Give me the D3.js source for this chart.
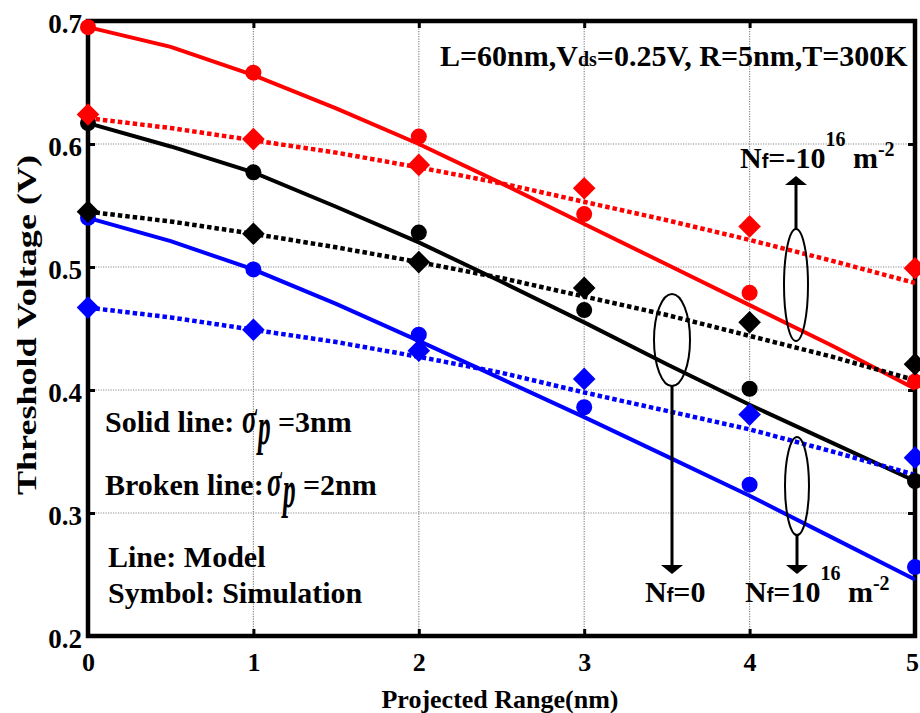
<!DOCTYPE html>
<html>
<head>
<meta charset="utf-8">
<script src="https://cdn.jsdelivr.net/npm/d3@7"></script>
<style>
body { margin: 0; background: #fff; }
svg text { font-family: "Liberation Serif", "Times New Roman", serif; font-weight: bold; fill: #000; }
</style>
</head>
<body>
<div id="graph"></div>
<script>
// tick labels
var x_ticks = [0, 1, 2, 3, 4, 5];
var y_ticks = [0.2, 0.3, 0.4, 0.5, 0.6, 0.7];

// simulation symbols sit on integer projected range values
var sim_x = [0, 1, 2, 3, 4, 5];
// model curves read every half nm
var model_x = [0, 0.5, 1, 1.5, 2, 2.5, 3, 3.5, 4, 4.5, 5];

// sigma_p = 3nm (solid line, circle symbols)
var model_neg_3 = [0.695, 0.679, 0.656, 0.629, 0.600, 0.568, 0.535, 0.502, 0.469, 0.436, 0.401];
var model_zero_3 = [0.617, 0.598, 0.577, 0.549, 0.520, 0.488, 0.455, 0.421, 0.388, 0.357, 0.326];
var model_pos_3 = [0.540, 0.521, 0.498, 0.470, 0.440, 0.409, 0.378, 0.346, 0.314, 0.280, 0.246];
var sim_neg_3 = [0.695, 0.658, 0.606, 0.543, 0.479, 0.407];
var sim_zero_3 = [0.617, 0.577, 0.528, 0.465, 0.401, 0.326];
var sim_pos_3 = [0.540, 0.498, 0.445, 0.386, 0.323, 0.256];

// sigma_p = 2nm (broken line, diamond symbols)
var model_neg_2 = [0.621, 0.613, 0.603, 0.593, 0.581, 0.568, 0.553, 0.538, 0.522, 0.505, 0.487];
var model_zero_2 = [0.545, 0.537, 0.527, 0.516, 0.504, 0.491, 0.476, 0.461, 0.444, 0.427, 0.408];
var model_pos_2 = [0.467, 0.459, 0.449, 0.439, 0.427, 0.414, 0.398, 0.383, 0.368, 0.350, 0.331];
var sim_neg_2 = [0.624, 0.604, 0.583, 0.564, 0.533, 0.499];
var sim_zero_2 = [0.545, 0.527, 0.504, 0.483, 0.455, 0.421];
var sim_pos_2 = [0.467, 0.449, 0.432, 0.409, 0.380, 0.345];

var series = [
    {color: "#ff0000", dashed: false, model: model_neg_3, sim: sim_neg_3},
    {color: "#000000", dashed: false, model: model_zero_3, sim: sim_zero_3},
    {color: "#0000ff", dashed: false, model: model_pos_3, sim: sim_pos_3},
    {color: "#ff0000", dashed: true, model: model_neg_2, sim: sim_neg_2},
    {color: "#000000", dashed: true, model: model_zero_2, sim: sim_zero_2},
    {color: "#0000ff", dashed: true, model: model_pos_2, sim: sim_pos_2}
];

var W = 920, H = 713;
var plot = {left: 88, right: 915, top: 21, bottom: 636};

var svg = d3.select("#graph").append("svg")
    .attr("width", W)
    .attr("height", H);

var xScale = d3.scaleLinear().domain([0, 5]).range([plot.left, plot.right]);
var yScale = d3.scaleLinear().domain([0.2, 0.7]).range([plot.bottom, plot.top]);

// dotted grid
var grid = svg.append("g").attr("stroke", "#8a8a8a").attr("stroke-width", 1.2).attr("stroke-dasharray", "1.2,1.3");
grid.selectAll(".gx").data(x_ticks.slice(1, -1)).enter().append("line")
    .attr("x1", d => xScale(d)).attr("x2", d => xScale(d))
    .attr("y1", plot.top).attr("y2", plot.bottom);
grid.selectAll(".gy").data(y_ticks.slice(1, -1)).enter().append("line")
    .attr("y1", d => yScale(d)).attr("y2", d => yScale(d))
    .attr("x1", plot.left).attr("x2", plot.right);

// axes with inward ticks
var xAxis = d3.axisBottom(xScale).tickValues(x_ticks).tickSize(-7).tickPadding(17).tickFormat(d3.format("d"));
var yAxis = d3.axisLeft(yScale).tickValues(y_ticks).tickSize(-7).tickPadding(6).tickFormat(d3.format(".1f"));

var gx = svg.append("g").attr("transform", "translate(0," + plot.bottom + ")").call(xAxis);
var gy = svg.append("g").attr("transform", "translate(" + plot.left + ",0)").call(yAxis);
svg.append("g").attr("transform", "translate(0," + plot.top + ")")
    .call(d3.axisTop(xScale).tickValues(x_ticks).tickSize(-7).tickFormat(""));
svg.append("g").attr("transform", "translate(" + plot.right + ",0)")
    .call(d3.axisRight(yScale).tickValues(y_ticks).tickSize(-7).tickFormat(""));

svg.selectAll(".domain").remove();
svg.selectAll(".tick line").attr("stroke", "#000").attr("stroke-width", 3);
gx.selectAll(".tick text").attr("font-size", 26)
    .attr("dx", d => d === 5 ? -3 : 0);
gy.selectAll(".tick text").attr("font-size", 27).attr("dy", "0.43em");

svg.append("rect")
    .attr("x", plot.left).attr("y", plot.top)
    .attr("width", plot.right - plot.left).attr("height", plot.bottom - plot.top)
    .attr("fill", "none").attr("stroke", "#000").attr("stroke-width", 4.5);

// model lines
var line = d3.line()
    .x((d, i) => xScale(model_x[i]))
    .y(d => yScale(d));

svg.append("g").selectAll("path").data(series).enter().append("path")
    .attr("d", d => line(d.model))
    .attr("fill", "none")
    .attr("stroke", d => d.color)
    .attr("stroke-width", d => d.dashed ? 4.5 : 4)
    .attr("stroke-dasharray", d => d.dashed ? "4.5,3" : null);

// simulation symbols
var circleSym = d3.symbol().type(d3.symbolCircle).size(Math.PI * 8 * 8);
var diamondSym = d3.symbol().type(d3.symbolSquare).size(16 * 16);

series.forEach(function(s) {
    svg.append("g").selectAll("path").data(s.sim).enter().append("path")
        .attr("d", s.dashed ? diamondSym : circleSym)
        .attr("transform", function(d, i) {
            return "translate(" + xScale(sim_x[i]) + "," + yScale(d) + ")" + (s.dashed ? " rotate(45)" : "");
        })
        .attr("fill", s.color);
});

// axis titles
svg.append("text")
    .attr("x", 500).attr("y", 708)
    .attr("text-anchor", "middle")
    .attr("font-size", 26)
    .text("Projected Range(nm)");

svg.append("text")
    .attr("transform", "translate(36,325) rotate(-90)")
    .attr("text-anchor", "middle")
    .attr("font-size", 28)
    .attr("textLength", 340)
    .attr("lengthAdjust", "spacingAndGlyphs")
    .text("Threshold Voltage (V)");

// conditions
var cond = svg.append("text").attr("x", 440).attr("y", 66).attr("font-size", 30);
cond.append("tspan").text("L=60nm,V");
cond.append("tspan").attr("font-size", 20).text("ds");
cond.append("tspan").text("=0.25V, R=5nm,T=300K");

// legend notes
function sigmaNote(label, x, y, sx, value) {
    svg.append("text").attr("x", x).attr("y", y).attr("font-size", 30).text(label);
    svg.append("text")
        .attr("transform", "translate(" + sx + "," + (y + 1) + ") scale(0.75,1.25)")
        .attr("font-size", 36).attr("font-style", "italic").attr("font-weight", "normal")
        .text("σ");
    svg.append("text")
        .attr("transform", "translate(" + (sx + 16) + "," + (y + 12) + ") scale(0.6,1.25)")
        .attr("font-size", 42).attr("font-style", "italic").attr("font-weight", "normal")
        .text("p");
    svg.append("text").attr("x", sx + 36).attr("y", y).attr("font-size", 30).text(value);
}
sigmaNote("Solid line:", 105, 432, 242, "=3nm");
sigmaNote("Broken line:", 105, 495, 267, "=2nm");

svg.append("text").attr("x", 108).attr("y", 567).attr("font-size", 30).text("Line: Model");
svg.append("text").attr("x", 108).attr("y", 603).attr("font-size", 30).text("Symbol: Simulation");

// ellipses and arrows for the three surface charge groups
var groups = [
    {cx: 796, cy: 285, rx: 12, ry: 56, y1: 229, y2: 176},
    {cx: 672, cy: 340, rx: 18, ry: 46, y1: 386, y2: 574},
    {cx: 797, cy: 486, rx: 12, ry: 49, y1: 535, y2: 574}
];
groups.forEach(function(g) {
    svg.append("ellipse")
        .attr("cx", g.cx).attr("cy", g.cy).attr("rx", g.rx).attr("ry", g.ry)
        .attr("fill", "none").attr("stroke", "#000").attr("stroke-width", 2);
    var dir = g.y2 > g.y1 ? 1 : -1;
    svg.append("line")
        .attr("x1", g.cx).attr("x2", g.cx)
        .attr("y1", g.y1).attr("y2", g.y2 - dir * 8)
        .attr("stroke", "#000").attr("stroke-width", 3);
    svg.append("path")
        .attr("d", "M" + (g.cx - 11) + "," + (g.y2 - dir * 9) + "L" + (g.cx + 11) + "," + (g.y2 - dir * 9) + "L" + g.cx + "," + g.y2 + "Z")
        .attr("fill", "#000");
});

function nfLabel(x, y, value, power) {
    var t = svg.append("text").attr("x", x).attr("y", y).attr("font-size", 30);
    t.append("tspan").text("N");
    t.append("tspan").attr("font-size", 20).attr("font-family", "Liberation Sans, sans-serif").text("f");
    t.append("tspan").text("=" + value);
    if (power) {
        t.append("tspan").attr("font-size", 20).attr("dy", -22).text("16");
        t.append("tspan").attr("dy", 22).text(" m");
        t.append("tspan").attr("font-size", 20).attr("dy", -12).text("-2");
    }
}
nfLabel(740, 168, "-10", true);
nfLabel(645, 602, "0", false);
nfLabel(745, 602, "10", true);
</script>
</body>
</html>
